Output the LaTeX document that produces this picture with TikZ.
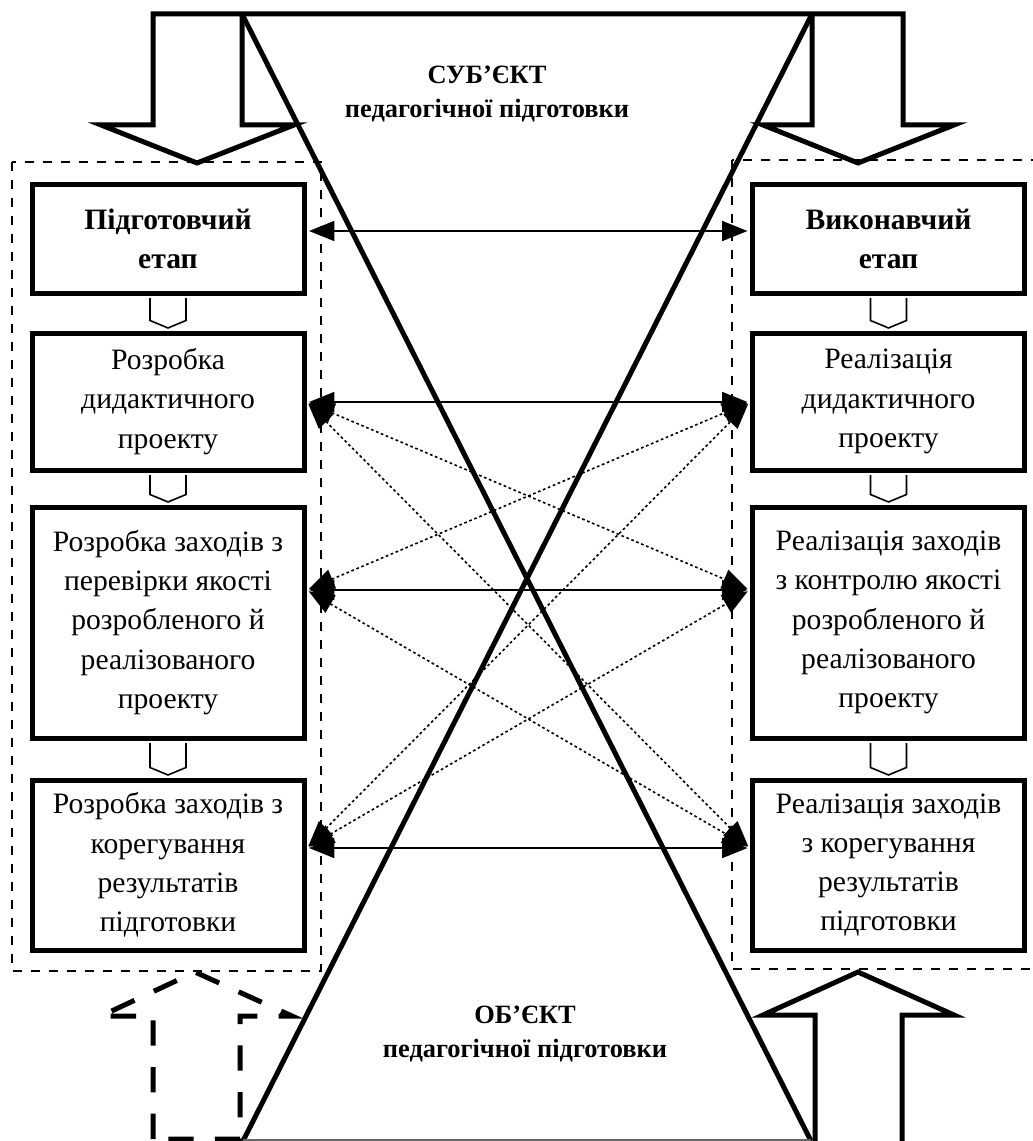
\documentclass[tikz,border=0pt]{standalone}
\usepackage{fontspec}
\setmainfont{Liberation Serif}
\usetikzlibrary{arrows.meta}
\begin{document}
\begin{tikzpicture}[x=0.75pt,y=-0.75pt,
  thickline/.style={line width=3.75pt},
  stagebox/.style={draw, line width=3.75pt, minimum width=204pt, align=center, inner sep=2pt,
     font=\fontsize{22.2}{29.4}\selectfont},
  framebox/.style={line width=1.5pt, dash pattern=on 6.5pt off 7pt},
  harrow/.style={line width=1.2pt, {Triangle[length=19pt,width=15pt]}-{Triangle[length=19pt,width=15pt]}, shorten <=1.9pt, shorten >=1.9pt},
  darrow/.style={harrow, dash pattern=on 2pt off 2pt},
  linkarrow/.style={line width=1.2pt, fill=white},
  title/.style={align=center, inner sep=0pt, font=\bfseries\fontsize{19.8}{25.5}\selectfont}
]
\useasboundingbox (0,0) rectangle (1032,1141);

% dashed frames
\draw[framebox] (12,162) rectangle (321,971);
\draw[framebox] (732,160) rectangle (1040,969);

% boxes
\node[stagebox, minimum height=81pt]     (L1) at (168,239)   {\bfseries Підготовчий\\ \bfseries етап};
\node[stagebox, minimum height=102.75pt] (L2) at (168,401.5) {Розробка\\ дидактичного\\ проекту};
\node[stagebox, minimum height=173.25pt] (L3) at (168,622.5) {Розробка заходів з\\ перевірки якості\\ розробленого й\\ реалізованого\\ проекту};
\node[stagebox, minimum height=127.5pt]  (L4) at (168,865)   {Розробка заходів з\\ корегування\\ результатів\\ підготовки};

\node[stagebox, minimum height=81pt]     (R1) at (888.5,239)   {\bfseries Виконавчий\\ \bfseries етап};
\node[stagebox, minimum height=102.75pt] (R2) at (888.5,401.5) {Реалізація\\ дидактичного\\ проекту};
\node[stagebox, minimum height=173.25pt] (R3) at (888.5,622.5) {Реалізація заходів\\ з контролю якості\\ розробленого й\\ реалізованого\\ проекту};
\node[stagebox, minimum height=127.5pt]  (R4) at (888.5,865)   {Реалізація заходів\\ з корегування\\ результатів\\ підготовки};

% links between successive boxes
\foreach \a/\b in {L1/L2, L2/L3, L3/L4, R1/R2, R2/R3, R3/R4}{
  \draw[linkarrow] ([xshift=-13.5pt,yshift=-1.9pt]\a.south) -- ([xshift=-13.5pt,yshift=7.5pt]\b.north)
     -- ([yshift=1.9pt]\b.north) -- ([xshift=13.5pt,yshift=7.5pt]\b.north) -- ([xshift=13.5pt,yshift=-1.9pt]\a.south);
}

% arrow end points
\coordinate (l1) at (L1.east |- 0,231);
\coordinate (l2) at (L2.east |- 0,402);
\coordinate (l3) at (L3.east |- 0,590);
\coordinate (l4) at (L4.east |- 0,848);
\coordinate (r1) at (R1.west |- 0,231);
\coordinate (r2) at (R2.west |- 0,402);
\coordinate (r3) at (R3.west |- 0,590);
\coordinate (r4) at (R4.west |- 0,848);

% hourglass
\draw[thickline] (242,14) -- (811,1141);
\draw[thickline] (812,14) -- (243,1141);
\draw[line width=1.2pt, black!60] (243,1140) -- (811,1140);

% top arrows with top line
\draw[thickline] (242,14) -- (242,125) -- (294,125) -- (197,163) -- (101,125) -- (153,125) -- (153,14)
   -- (903,14) -- (903,125) -- (954,125) -- (858,163) -- (763,125) -- (812,125) -- (812,14);

% bottom arrows
\draw[thickline] (815,1145) -- (815,1015) -- (763,1015) -- (858,972) -- (954,1015) -- (902,1015) -- (902,1145);
\draw[line width=3.75pt, dash pattern=on 19pt off 16pt] (153,1139) -- (153,1016) -- (101,1016) -- (195,972) -- (292,1016) -- (240,1016) -- (240,1139) -- cycle;

% horizontal arrows
\draw[harrow] (l1) -- (r1);
\draw[harrow] (l2) -- (r2);
\draw[harrow] (l3) -- (r3);
\draw[harrow] (l4) -- (r4);

% dotted cross arrows
\draw[darrow] (l2) -- (r3);
\draw[darrow] (l2) -- (r4);
\draw[darrow] (l3) -- (r2);
\draw[darrow] (l3) -- (r4);
\draw[darrow] (l4) -- (r2);
\draw[darrow] (l4) -- (r3);

% titles
\node[title] (subj) at (487,94) {СУБ’ЄКТ\\ педагогічної підготовки};
\node[title] (obj) at (525,1034) {ОБ’ЄКТ\\ педагогічної підготовки};
\end{tikzpicture}
\end{document}
